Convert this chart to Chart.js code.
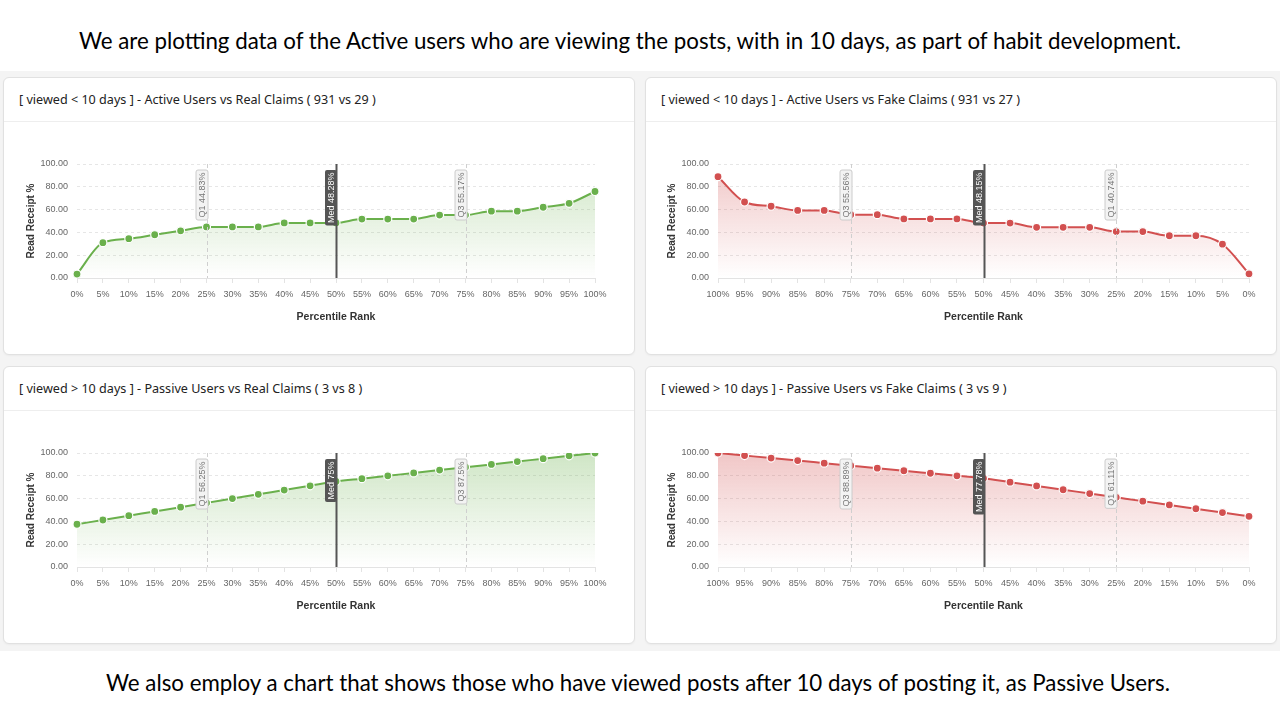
<!DOCTYPE html>
<html>
<head>
<meta charset="utf-8">
<script src="https://cdn.jsdelivr.net/npm/chart.js@4.4.1/dist/chart.umd.min.js"></script>
<style>
  html, body { margin: 0; padding: 0; background: #fff; }
  body { width: 1280px; height: 720px; position: relative; overflow: hidden; }
  .caption { position: absolute; left: 0; width: 1280px; text-align: center; font-family: Lato, sans-serif; font-size: 22.3px; color: #000; }
  .board { position: absolute; left: 0; top: 71px; width: 1280px; height: 580px; background: #f4f4f4; }
  .card { position: absolute; width: 630px; height: 276px; background: #fff; border: 1px solid #e1e1e1; border-radius: 6px; box-shadow: 0 1px 2px rgba(0,0,0,0.04); }
  .card h3 { margin: 0; height: 43px; line-height: 44px; padding-left: 15px; border-bottom: 1px solid #eeeeee; font-family: "Noto Sans", sans-serif; font-weight: normal; font-size: 12.6px; color: #222; }
  canvas { position: absolute; }
</style>
</head>
<body>
<div class="caption" style="top:27px;left:-10px">We are plotting data of the Active users who are viewing the posts, with in 10 days, as part of habit development.</div>
<div class="board"></div>
<div class="card" style="left:3px;top:77px"><h3>[ viewed &lt; 10 days ] - Active Users vs Real Claims ( 931 vs 29 )</h3></div>
<div class="card" style="left:645px;top:77px"><h3>[ viewed &lt; 10 days ] - Active Users vs Fake Claims ( 931 vs 27 )</h3></div>
<div class="card" style="left:3px;top:366px"><h3>[ viewed &gt; 10 days ] - Passive Users vs Real Claims ( 3 vs 8 )</h3></div>
<div class="card" style="left:645px;top:366px"><h3>[ viewed &gt; 10 days ] - Passive Users vs Fake Claims ( 3 vs 9 )</h3></div>
<canvas id="c1" width="612" height="200" style="left:13px;top:140px"></canvas>
<canvas id="c2" width="625" height="200" style="left:654px;top:140px"></canvas>
<canvas id="c3" width="612" height="200" style="left:13px;top:429px"></canvas>
<canvas id="c4" width="625" height="200" style="left:654px;top:429px"></canvas>
<div class="caption" style="top:669px;left:-2px">We also employ a chart that shows those who have viewed posts after 10 days of posting it, as Passive Users.</div>

<script>
// Percentile ranks (x axis)
const ranksUp = ['0%', '5%', '10%', '15%', '20%', '25%', '30%', '35%', '40%', '45%', '50%',
                 '55%', '60%', '65%', '70%', '75%', '80%', '85%', '90%', '95%', '100%'];
const ranksDown = ['100%', '95%', '90%', '85%', '80%', '75%', '70%', '65%', '60%', '55%', '50%',
                   '45%', '40%', '35%', '30%', '25%', '20%', '15%', '10%', '5%', '0%'];

// Read receipt % per rank
const activeReal = [3.45, 31.03, 34.48, 37.93, 41.38, 44.83, 44.83, 44.83, 48.28, 48.28, 48.28,
                    51.72, 51.72, 51.72, 55.17, 55.17, 58.62, 58.62, 62.07, 65.52, 75.86];
const activeFake = [88.89, 66.67, 62.96, 59.26, 59.26, 55.56, 55.56, 51.85, 51.85, 51.85, 48.15,
                    48.15, 44.44, 44.44, 44.44, 40.74, 40.74, 37.04, 37.04, 29.63, 3.70];
const passiveReal = [37.5, 41.25, 45, 48.75, 52.5, 56.25, 60, 63.75, 67.5, 71.25, 75,
                     77.5, 80, 82.5, 85, 87.5, 90, 92.5, 95, 97.5, 100];
const passiveFake = [100, 97.78, 95.56, 93.33, 91.11, 88.89, 86.67, 84.44, 82.22, 80, 77.78,
                     74.44, 71.11, 67.78, 64.44, 61.11, 57.78, 54.44, 51.11, 47.78, 44.44];

// Quartile markers: where they sit and what they say
const markAt = ['25%', '50%', '75%'];
const activeRealMarks = ['Q1 44.83%', 'Med 48.28%', 'Q3 55.17%'];
const activeFakeMarks = ['Q1 40.74%', 'Med 48.15%', 'Q3 55.56%'];
const passiveRealMarks = ['Q1 56.25%', 'Med 75%', 'Q3 87.5%'];
const passiveFakeMarks = ['Q1 61.11%', 'Med 77.78%', 'Q3 88.89%'];

const green = '106, 176, 76';
const red = '210, 80, 80';
const tickFont = { family: '"Liberation Sans", Arial, sans-serif', size: 9 };

// vertical quartile lines with rotated labels
const quartilePlugin = {
  id: 'quartiles',
  afterDatasetsDraw(chart, args, opts) {
    const { ctx, chartArea, scales: { x } } = chart;
    markAt.forEach((at, i) => {
      const px = Math.round(x.getPixelForValue(chart.data.labels.indexOf(at))) + 0.5;
      const isMed = i === 1;
      ctx.save();
      ctx.beginPath();
      ctx.moveTo(px, chartArea.top);
      ctx.lineTo(px, chartArea.bottom);
      if (isMed) {
        ctx.strokeStyle = '#555';
        ctx.lineWidth = 2;
      } else {
        ctx.strokeStyle = '#cfcfcf';
        ctx.lineWidth = 1;
        ctx.setLineDash([4, 3]);
      }
      ctx.stroke();
      ctx.setLineDash([]);

      const text = opts.marks[i];
      ctx.font = '9px "Liberation Sans", Arial, sans-serif';
      const len = ctx.measureText(text).width + 5;
      const w = 12;
      const bx = px - w + 0.5, by = chartArea.top + 6;
      ctx.beginPath();
      ctx.roundRect(bx, by, w, len, 2);
      ctx.fillStyle = isMed ? '#555' : '#f3f3f3';
      ctx.fill();
      if (!isMed) {
        ctx.strokeStyle = '#cccccc';
        ctx.lineWidth = 1;
        ctx.stroke();
      }
      ctx.translate(bx + w / 2, by + len / 2);
      ctx.rotate(-Math.PI / 2);
      ctx.fillStyle = isMed ? '#fff' : '#777';
      ctx.textAlign = 'center';
      ctx.textBaseline = 'middle';
      ctx.fillText(text, 0, 0.5);
      ctx.restore();
    });
  }
};

function makeChart(id, labels, values, rgb, marks) {
  return new Chart(document.getElementById(id), {
    type: 'line',
    data: {
      labels: labels,
      datasets: [{
        data: values,
        borderColor: 'rgb(' + rgb + ')',
        borderWidth: 2,
        pointBackgroundColor: 'rgb(' + rgb + ')',
        pointBorderColor: '#fff',
        pointBorderWidth: 1.2,
        pointRadius: 4,
        cubicInterpolationMode: 'monotone',
        fill: 'origin',
        backgroundColor: (c) => {
          const area = c.chart.chartArea;
          if (!area) return 'rgba(' + rgb + ', 0.15)';
          const g = c.chart.ctx.createLinearGradient(0, area.top, 0, area.bottom);
          g.addColorStop(0, 'rgba(' + rgb + ', 0.32)');
          g.addColorStop(1, 'rgba(' + rgb + ', 0)');
          return g;
        }
      }]
    },
    options: {
      responsive: false,
      animation: false,
      layout: { padding: { left: 8, top: 24, right: 30, bottom: 10 } },
      plugins: {
        legend: { display: false },
        tooltip: { enabled: false },
        quartiles: { marks: marks }
      },
      scales: {
        x: {
          afterFit: (s) => { s.height = 52; },
          grid: { drawOnChartArea: false, drawTicks: true, tickLength: 5, color: '#e3e3e3' },
          border: { color: '#e3e3e3' },
          ticks: { font: tickFont, color: '#666', padding: 6, maxRotation: 0, autoSkip: false },
          title: {
            display: true, text: 'Percentile Rank', color: '#333',
            font: { family: '"Liberation Sans", Arial, sans-serif', size: 10.5, weight: 'bold' },
            padding: { top: 4, bottom: 7 }
          }
        },
        y: {
          min: 0, max: 100,
          afterFit: (s) => { s.width = 56; },
          grid: { color: '#e6e6e6', drawTicks: false },
          border: { display: false, dash: [3, 3] },
          ticks: { stepSize: 20, font: tickFont, color: '#666', padding: 9, callback: (v) => v.toFixed(2) },
          title: {
            display: true, text: 'Read Receipt %', color: '#333',
            font: { family: '"Liberation Sans", Arial, sans-serif', size: 10, weight: 'bold' },
            padding: { top: 4, bottom: 0 }
          }
        }
      }
    },
    plugins: [quartilePlugin]
  });
}

makeChart('c1', ranksUp, activeReal, green, activeRealMarks);
makeChart('c2', ranksDown, activeFake, red, activeFakeMarks);
makeChart('c3', ranksUp, passiveReal, green, passiveRealMarks);
makeChart('c4', ranksDown, passiveFake, red, passiveFakeMarks);
</script>
</body>
</html>
